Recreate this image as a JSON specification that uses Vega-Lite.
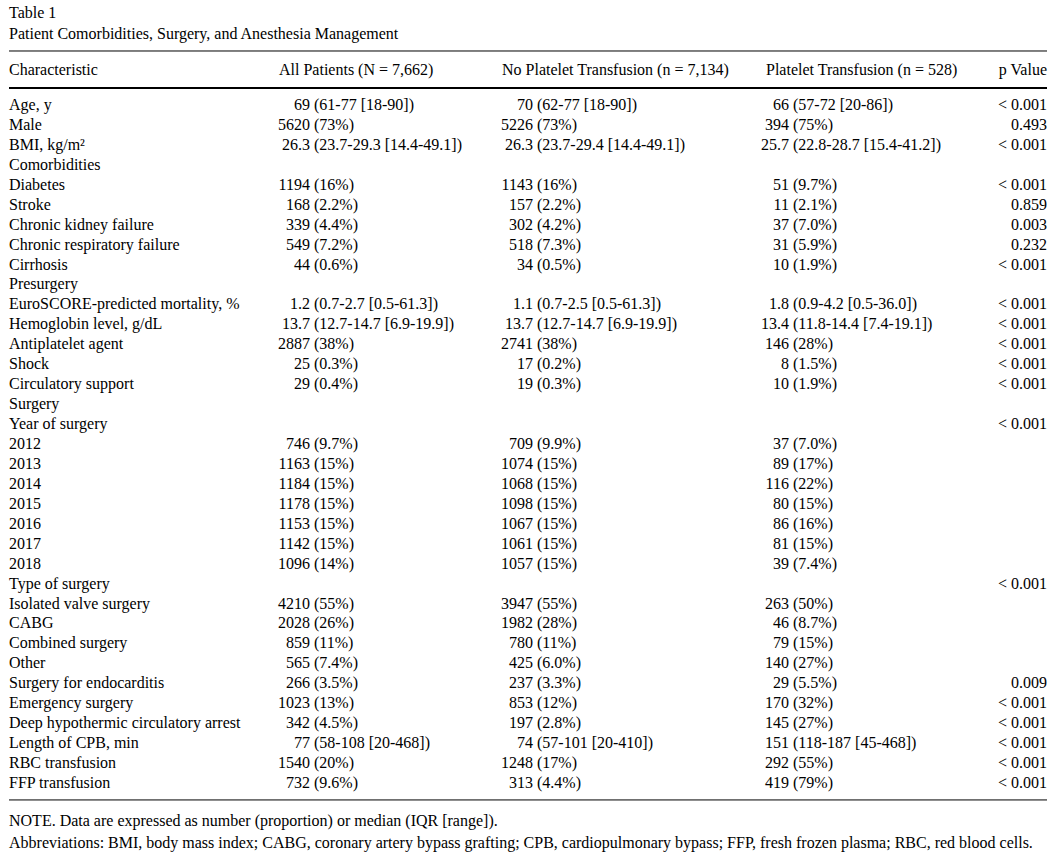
{
  "$schema": "https://vega.github.io/schema/vega-lite/v6.json",
  "width": 1060,
  "height": 855,
  "autosize": "none",
  "padding": 0,
  "background": "white",
  "config": {"view": {"stroke": null}, "text": {"font": "Liberation Serif", "fontSize": 16, "color": "#000"}},
  "datasets": {
    "labels": [
      {"row": 0, "label": "Age, y"},
      {"row": 1, "label": "Male"},
      {"row": 2, "label": "BMI, kg/m²"},
      {"row": 3, "label": "Comorbidities"},
      {"row": 4, "label": "Diabetes"},
      {"row": 5, "label": "Stroke"},
      {"row": 6, "label": "Chronic kidney failure"},
      {"row": 7, "label": "Chronic respiratory failure"},
      {"row": 8, "label": "Cirrhosis"},
      {"row": 9, "label": "Presurgery"},
      {"row": 10, "label": "EuroSCORE-predicted mortality, %"},
      {"row": 11, "label": "Hemoglobin level, g/dL"},
      {"row": 12, "label": "Antiplatelet agent"},
      {"row": 13, "label": "Shock"},
      {"row": 14, "label": "Circulatory support"},
      {"row": 15, "label": "Surgery"},
      {"row": 16, "label": "Year of surgery"},
      {"row": 17, "label": "2012"},
      {"row": 18, "label": "2013"},
      {"row": 19, "label": "2014"},
      {"row": 20, "label": "2015"},
      {"row": 21, "label": "2016"},
      {"row": 22, "label": "2017"},
      {"row": 23, "label": "2018"},
      {"row": 24, "label": "Type of surgery"},
      {"row": 25, "label": "Isolated valve surgery"},
      {"row": 26, "label": "CABG"},
      {"row": 27, "label": "Combined surgery"},
      {"row": 28, "label": "Other"},
      {"row": 29, "label": "Surgery for endocarditis"},
      {"row": 30, "label": "Emergency surgery"},
      {"row": 31, "label": "Deep hypothermic circulatory arrest"},
      {"row": 32, "label": "Length of CPB, min"},
      {"row": 33, "label": "RBC transfusion"},
      {"row": 34, "label": "FFP transfusion"}
    ],
    "cells": [
      {"row": 0, "col": 1, "lead": "69", "rest": "(61-77 [18-90])"},
      {"row": 1, "col": 1, "lead": "5620", "rest": "(73%)"},
      {"row": 2, "col": 1, "lead": "26.3", "rest": "(23.7-29.3 [14.4-49.1])"},
      {"row": 4, "col": 1, "lead": "1194", "rest": "(16%)"},
      {"row": 5, "col": 1, "lead": "168", "rest": "(2.2%)"},
      {"row": 6, "col": 1, "lead": "339", "rest": "(4.4%)"},
      {"row": 7, "col": 1, "lead": "549", "rest": "(7.2%)"},
      {"row": 8, "col": 1, "lead": "44", "rest": "(0.6%)"},
      {"row": 10, "col": 1, "lead": "1.2", "rest": "(0.7-2.7 [0.5-61.3])"},
      {"row": 11, "col": 1, "lead": "13.7", "rest": "(12.7-14.7 [6.9-19.9])"},
      {"row": 12, "col": 1, "lead": "2887", "rest": "(38%)"},
      {"row": 13, "col": 1, "lead": "25", "rest": "(0.3%)"},
      {"row": 14, "col": 1, "lead": "29", "rest": "(0.4%)"},
      {"row": 17, "col": 1, "lead": "746", "rest": "(9.7%)"},
      {"row": 18, "col": 1, "lead": "1163", "rest": "(15%)"},
      {"row": 19, "col": 1, "lead": "1184", "rest": "(15%)"},
      {"row": 20, "col": 1, "lead": "1178", "rest": "(15%)"},
      {"row": 21, "col": 1, "lead": "1153", "rest": "(15%)"},
      {"row": 22, "col": 1, "lead": "1142", "rest": "(15%)"},
      {"row": 23, "col": 1, "lead": "1096", "rest": "(14%)"},
      {"row": 25, "col": 1, "lead": "4210", "rest": "(55%)"},
      {"row": 26, "col": 1, "lead": "2028", "rest": "(26%)"},
      {"row": 27, "col": 1, "lead": "859", "rest": "(11%)"},
      {"row": 28, "col": 1, "lead": "565", "rest": "(7.4%)"},
      {"row": 29, "col": 1, "lead": "266", "rest": "(3.5%)"},
      {"row": 30, "col": 1, "lead": "1023", "rest": "(13%)"},
      {"row": 31, "col": 1, "lead": "342", "rest": "(4.5%)"},
      {"row": 32, "col": 1, "lead": "77", "rest": "(58-108 [20-468])"},
      {"row": 33, "col": 1, "lead": "1540", "rest": "(20%)"},
      {"row": 34, "col": 1, "lead": "732", "rest": "(9.6%)"},

      {"row": 0, "col": 2, "lead": "70", "rest": "(62-77 [18-90])"},
      {"row": 1, "col": 2, "lead": "5226", "rest": "(73%)"},
      {"row": 2, "col": 2, "lead": "26.3", "rest": "(23.7-29.4 [14.4-49.1])"},
      {"row": 4, "col": 2, "lead": "1143", "rest": "(16%)"},
      {"row": 5, "col": 2, "lead": "157", "rest": "(2.2%)"},
      {"row": 6, "col": 2, "lead": "302", "rest": "(4.2%)"},
      {"row": 7, "col": 2, "lead": "518", "rest": "(7.3%)"},
      {"row": 8, "col": 2, "lead": "34", "rest": "(0.5%)"},
      {"row": 10, "col": 2, "lead": "1.1", "rest": "(0.7-2.5 [0.5-61.3])"},
      {"row": 11, "col": 2, "lead": "13.7", "rest": "(12.7-14.7 [6.9-19.9])"},
      {"row": 12, "col": 2, "lead": "2741", "rest": "(38%)"},
      {"row": 13, "col": 2, "lead": "17", "rest": "(0.2%)"},
      {"row": 14, "col": 2, "lead": "19", "rest": "(0.3%)"},
      {"row": 17, "col": 2, "lead": "709", "rest": "(9.9%)"},
      {"row": 18, "col": 2, "lead": "1074", "rest": "(15%)"},
      {"row": 19, "col": 2, "lead": "1068", "rest": "(15%)"},
      {"row": 20, "col": 2, "lead": "1098", "rest": "(15%)"},
      {"row": 21, "col": 2, "lead": "1067", "rest": "(15%)"},
      {"row": 22, "col": 2, "lead": "1061", "rest": "(15%)"},
      {"row": 23, "col": 2, "lead": "1057", "rest": "(15%)"},
      {"row": 25, "col": 2, "lead": "3947", "rest": "(55%)"},
      {"row": 26, "col": 2, "lead": "1982", "rest": "(28%)"},
      {"row": 27, "col": 2, "lead": "780", "rest": "(11%)"},
      {"row": 28, "col": 2, "lead": "425", "rest": "(6.0%)"},
      {"row": 29, "col": 2, "lead": "237", "rest": "(3.3%)"},
      {"row": 30, "col": 2, "lead": "853", "rest": "(12%)"},
      {"row": 31, "col": 2, "lead": "197", "rest": "(2.8%)"},
      {"row": 32, "col": 2, "lead": "74", "rest": "(57-101 [20-410])"},
      {"row": 33, "col": 2, "lead": "1248", "rest": "(17%)"},
      {"row": 34, "col": 2, "lead": "313", "rest": "(4.4%)"},

      {"row": 0, "col": 3, "lead": "66", "rest": "(57-72 [20-86])"},
      {"row": 1, "col": 3, "lead": "394", "rest": "(75%)"},
      {"row": 2, "col": 3, "lead": "25.7", "rest": "(22.8-28.7 [15.4-41.2])"},
      {"row": 4, "col": 3, "lead": "51", "rest": "(9.7%)"},
      {"row": 5, "col": 3, "lead": "11", "rest": "(2.1%)"},
      {"row": 6, "col": 3, "lead": "37", "rest": "(7.0%)"},
      {"row": 7, "col": 3, "lead": "31", "rest": "(5.9%)"},
      {"row": 8, "col": 3, "lead": "10", "rest": "(1.9%)"},
      {"row": 10, "col": 3, "lead": "1.8", "rest": "(0.9-4.2 [0.5-36.0])"},
      {"row": 11, "col": 3, "lead": "13.4", "rest": "(11.8-14.4 [7.4-19.1])"},
      {"row": 12, "col": 3, "lead": "146", "rest": "(28%)"},
      {"row": 13, "col": 3, "lead": "8", "rest": "(1.5%)"},
      {"row": 14, "col": 3, "lead": "10", "rest": "(1.9%)"},
      {"row": 17, "col": 3, "lead": "37", "rest": "(7.0%)"},
      {"row": 18, "col": 3, "lead": "89", "rest": "(17%)"},
      {"row": 19, "col": 3, "lead": "116", "rest": "(22%)"},
      {"row": 20, "col": 3, "lead": "80", "rest": "(15%)"},
      {"row": 21, "col": 3, "lead": "86", "rest": "(16%)"},
      {"row": 22, "col": 3, "lead": "81", "rest": "(15%)"},
      {"row": 23, "col": 3, "lead": "39", "rest": "(7.4%)"},
      {"row": 25, "col": 3, "lead": "263", "rest": "(50%)"},
      {"row": 26, "col": 3, "lead": "46", "rest": "(8.7%)"},
      {"row": 27, "col": 3, "lead": "79", "rest": "(15%)"},
      {"row": 28, "col": 3, "lead": "140", "rest": "(27%)"},
      {"row": 29, "col": 3, "lead": "29", "rest": "(5.5%)"},
      {"row": 30, "col": 3, "lead": "170", "rest": "(32%)"},
      {"row": 31, "col": 3, "lead": "145", "rest": "(27%)"},
      {"row": 32, "col": 3, "lead": "151", "rest": "(118-187 [45-468])"},
      {"row": 33, "col": 3, "lead": "292", "rest": "(55%)"},
      {"row": 34, "col": 3, "lead": "419", "rest": "(79%)"}
    ],
    "pvalues": [
      {"row": 0, "p": "< 0.001"},
      {"row": 1, "p": "0.493"},
      {"row": 2, "p": "< 0.001"},
      {"row": 4, "p": "< 0.001"},
      {"row": 5, "p": "0.859"},
      {"row": 6, "p": "0.003"},
      {"row": 7, "p": "0.232"},
      {"row": 8, "p": "< 0.001"},
      {"row": 10, "p": "< 0.001"},
      {"row": 11, "p": "< 0.001"},
      {"row": 12, "p": "< 0.001"},
      {"row": 13, "p": "< 0.001"},
      {"row": 14, "p": "< 0.001"},
      {"row": 16, "p": "< 0.001"},
      {"row": 24, "p": "< 0.001"},
      {"row": 29, "p": "0.009"},
      {"row": 30, "p": "< 0.001"},
      {"row": 31, "p": "< 0.001"},
      {"row": 32, "p": "< 0.001"},
      {"row": 33, "p": "< 0.001"},
      {"row": 34, "p": "< 0.001"}
    ],
    "headers": [
      {"col": 0, "text": "Characteristic"},
      {"col": 1, "text": "All Patients (N = 7,662)"},
      {"col": 2, "text": "No Platelet Transfusion (n = 7,134)"},
      {"col": 3, "text": "Platelet Transfusion (n = 528)"}
    ],
    "captions": [
      {"line": -4.61, "text": "Table 1"},
      {"line": -3.56, "text": "Patient Comorbidities, Surgery, and Anesthesia Management"},
      {"line": 35.906, "text": "NOTE. Data are expressed as number (proportion) or median (IQR [range])."},
      {"line": 37.0, "text": "Abbreviations: BMI, body mass index; CABG, coronary artery bypass grafting; CPB, cardiopulmonary bypass; FFP, fresh frozen plasma; RBC, red blood cells."}
    ]
  },
  "resolve": {"scale": {"x": "independent"}},
  "layer": [
    {
      "data": {"name": "labels"},
      "mark": {"type": "text", "align": "left", "baseline": "middle"},
      "encoding": {
        "x": {"datum": 0, "type": "quantitative", "axis": null, "scale": {"domain": [0, 1], "range": [9, 1047]}},
        "y": {"field": "row", "type": "quantitative", "axis": null, "scale": {"domain": [0, 34], "range": [105, 783]}},
        "text": {"field": "label"}
      }
    },
    {
      "data": {"name": "cells"},
      "mark": {"type": "text", "align": "right", "baseline": "middle"},
      "encoding": {
        "x": {"field": "col", "type": "quantitative", "axis": null, "scale": {"domain": [1, 2, 3], "range": [310, 533, 789]}},
        "y": {"field": "row", "type": "quantitative", "axis": null, "scale": {"domain": [0, 34], "range": [105, 783]}},
        "text": {"field": "lead"}
      }
    },
    {
      "data": {"name": "cells"},
      "mark": {"type": "text", "align": "left", "baseline": "middle", "dx": 4},
      "encoding": {
        "x": {"field": "col", "type": "quantitative", "axis": null, "scale": {"domain": [1, 2, 3], "range": [310, 533, 789]}},
        "y": {"field": "row", "type": "quantitative", "axis": null, "scale": {"domain": [0, 34], "range": [105, 783]}},
        "text": {"field": "rest"}
      }
    },
    {
      "data": {"name": "pvalues"},
      "mark": {"type": "text", "align": "right", "baseline": "middle"},
      "encoding": {
        "x": {"datum": 1, "type": "quantitative", "axis": null, "scale": {"domain": [0, 1], "range": [9, 1047]}},
        "y": {"field": "row", "type": "quantitative", "axis": null, "scale": {"domain": [0, 34], "range": [105, 783]}},
        "text": {"field": "p"}
      }
    },
    {
      "data": {"name": "headers"},
      "mark": {"type": "text", "align": "left", "baseline": "middle"},
      "encoding": {
        "x": {"field": "col", "type": "quantitative", "axis": null, "scale": {"domain": [0, 1, 2, 3], "range": [9, 279, 502, 766]}},
        "y": {"datum": -1.755, "type": "quantitative", "axis": null, "scale": {"domain": [0, 34], "range": [105, 783]}},
        "text": {"field": "text"}
      }
    },
    {
      "data": {"values": [{"text": "p Value"}]},
      "mark": {"type": "text", "align": "right", "baseline": "middle"},
      "encoding": {
        "x": {"datum": 1, "type": "quantitative", "axis": null, "scale": {"domain": [0, 1], "range": [9, 1047]}},
        "y": {"datum": -1.755, "type": "quantitative", "axis": null, "scale": {"domain": [0, 34], "range": [105, 783]}},
        "text": {"field": "text"}
      }
    },
    {
      "data": {"name": "captions"},
      "mark": {"type": "text", "align": "left", "baseline": "middle"},
      "encoding": {
        "x": {"datum": 0, "type": "quantitative", "axis": null, "scale": {"domain": [0, 1], "range": [9, 1047]}},
        "y": {"field": "line", "type": "quantitative", "axis": null, "scale": {"domain": [0, 34], "range": [105, 783]}},
        "text": {"field": "text"}
      }
    },
    {
      "data": {"values": [{}]},
      "mark": {"type": "rule", "color": "#000", "strokeWidth": 1},
      "encoding": {
        "x": {"datum": 0, "type": "quantitative", "axis": null, "scale": {"domain": [0, 1], "range": [9, 1047]}},
        "x2": {"datum": 1},
        "y": {"datum": -2.708, "type": "quantitative", "axis": null, "scale": {"domain": [0, 34], "range": [105, 783]}}
      }
    },
    {
      "data": {"values": [{}]},
      "mark": {"type": "rule", "color": "#000", "strokeWidth": 2},
      "encoding": {
        "x": {"datum": 0, "type": "quantitative", "axis": null, "scale": {"domain": [0, 1], "range": [9, 1047]}},
        "x2": {"datum": 1},
        "y": {"datum": -0.853, "type": "quantitative", "axis": null, "scale": {"domain": [0, 34], "range": [105, 783]}}
      }
    },
    {
      "data": {"values": [{}]},
      "mark": {"type": "rule", "color": "#000", "strokeWidth": 1},
      "encoding": {
        "x": {"datum": 0, "type": "quantitative", "axis": null, "scale": {"domain": [0, 1], "range": [9, 1047]}},
        "x2": {"datum": 1},
        "y": {"datum": 34.85, "type": "quantitative", "axis": null, "scale": {"domain": [0, 34], "range": [105, 783]}}
      }
    }
  ]
}
